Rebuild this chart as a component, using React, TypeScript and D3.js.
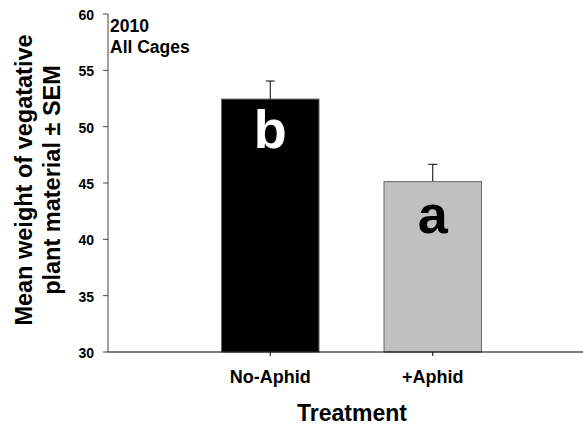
import React from "react";
import * as d3 from "d3";

const categories = ["No-Aphid", "+Aphid"];
const means = [52.45, 45.12];
const sems = [1.6, 1.54];
const letters = ["b", "a"];
const barColors = ["#000000", "#c0c0c0"];
const letterColors = ["#ffffff", "#000000"];
const yTicks = [30, 35, 40, 45, 50, 55, 60];
const annotation = ["2010", "All Cages"];

const W = 583;
const H = 428;
const FONT = "'Liberation Sans', Arial, Helvetica, sans-serif";

export default function App() {
  const y = d3.scaleLinear().domain([30, 60]).range([352, 14]);
  const x = d3
    .scaleBand<string>()
    .domain(categories)
    .range([189, 514])
    .paddingInner(0.4)
    .paddingOuter(0.2);
  const axisX0 = 108;
  const axisX1 = 583;
  const bw = x.bandwidth();

  return (
    <svg
      width={W}
      height={H}
      style={{ position: "absolute", left: 0, top: 0, background: "#fff" }}
      fontFamily={FONT}
      fontWeight="bold"
    >
      {/* bars */}
      {categories.map((c, i) => (
        <g key={c}>
          <line
            x1={(x(c) as number) + bw / 2}
            x2={(x(c) as number) + bw / 2}
            y1={y(means[i])}
            y2={y(means[i] + sems[i])}
            stroke="#000"
            strokeWidth={1}
          />
          <line
            x1={(x(c) as number) + bw / 2 - 4.5}
            x2={(x(c) as number) + bw / 2 + 4.5}
            y1={y(means[i] + sems[i])}
            y2={y(means[i] + sems[i])}
            stroke="#000"
            strokeWidth={1}
          />
          <rect
            x={x(c)}
            y={y(means[i])}
            width={bw}
            height={y(30) - y(means[i])}
            fill={barColors[i]}
            stroke="#666"
            strokeWidth={1}
          />
        </g>
      ))}
      {/* letters */}
      {categories.map((c, i) => (
        <text
          key={"l" + c}
          x={(x(c) as number) + bw / 2}
          y={i === 0 ? 148 : 233}
          textAnchor="middle"
          fontSize={54}
          fill={letterColors[i]}
        >
          {letters[i]}
        </text>
      ))}
      {/* y axis */}
      <line x1={axisX0} x2={axisX0} y1={y(60)} y2={y(30)} stroke="#444" strokeWidth={1} />
      {yTicks.map((t) => (
        <g key={t}>
          <line x1={axisX0 - 5} x2={axisX0} y1={y(t)} y2={y(t)} stroke="#444" strokeWidth={1} />
          <text x={94} y={y(t) + 1} dy="0.36em" textAnchor="end" fontSize={14} fill="#000">
            {t}
          </text>
        </g>
      ))}
      {/* x axis */}
      <line x1={axisX0} x2={axisX1} y1={y(30)} y2={y(30)} stroke="#000" strokeWidth={1} />
      {categories.map((c) => (
        <g key={"t" + c}>
          <line
            x1={(x(c) as number) + bw / 2}
            x2={(x(c) as number) + bw / 2}
            y1={y(30)}
            y2={y(30) + 4}
            stroke="#000"
          />
          <text x={(x(c) as number) + bw / 2} y={383} textAnchor="middle" fontSize={18} fill="#000">
            {c}
          </text>
        </g>
      ))}
      {/* annotation */}
      {annotation.map((a, i) => (
        <text key={a} x={110} y={31.5 + i * 21} fontSize={17.5} fill="#000">
          {a}
        </text>
      ))}
      {/* axis titles */}
      <text x={352} y={421} textAnchor="middle" fontSize={23} fill="#000">
        Treatment
      </text>
      <g transform="translate(32,180) rotate(-90)">
        <text x={0} y={0} textAnchor="middle" fontSize={23.5} fill="#000">
          Mean weight of vegatative
        </text>
        <text x={0} y={27.5} textAnchor="middle" fontSize={23.5} fill="#000">
          plant material ± SEM
        </text>
      </g>
    </svg>
  );
}
